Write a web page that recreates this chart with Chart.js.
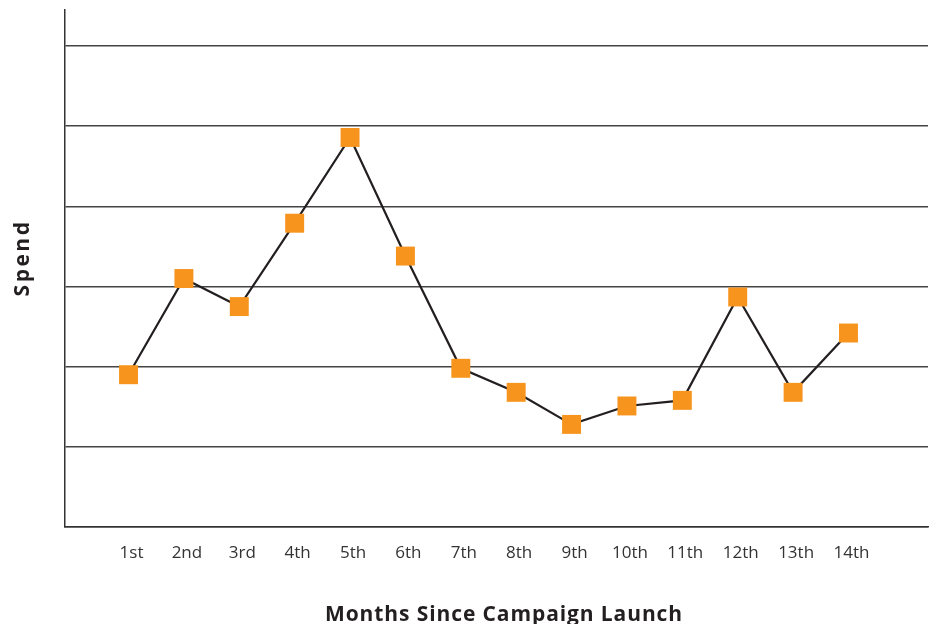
<!DOCTYPE html>
<html lang="en">
<head>
  <meta charset="UTF-8" />
  <title>Spend by Month</title>
  <script src="https://cdn.jsdelivr.net/npm/chart.js"></script>
  <style>
    html, body { margin: 0; padding: 0; background: #fff; }
    .chart-box { width: 937px; height: 624px; position: relative; }
  </style>
</head>
<body>
  <div class="chart-box">
    <canvas id="spendChart"></canvas>
  </div>

  <script>
    const months = ["1st", "2nd", "3rd", "4th", "5th", "6th", "7th", "8th", "9th", "10th", "11th", "12th", "13th", "14th"];
    const spend = [1.9, 3.1, 2.75, 3.79, 4.86, 3.38, 1.98, 1.68, 1.28, 1.51, 1.58, 2.87, 1.68, 2.42];
    const yTicks = [0, 1, 2, 3, 4, 5, 6];
    const yTitle = "Spend";
    const xTitle = "Months Since Campaign Launch";

    const points = months.map((m, i) => ({ x: i + 1, y: spend[i] }));

    // axis titles drawn by hand so they sit where the original has them
    const axisTitles = {
      id: "axisTitles",
      afterDraw(chart) {
        const ctx = chart.ctx;
        ctx.save();
        ctx.fillStyle = "#231f20";
        ctx.font = "bold 21px 'Open Sans'";
        ctx.textAlign = "center";
        ctx.textBaseline = "alphabetic";
        ctx.letterSpacing = "0.9px";
        ctx.fillText(xTitle, 504, 621);
        ctx.letterSpacing = "2.5px";
        ctx.translate(29, 258);
        ctx.rotate(-Math.PI / 2);
        ctx.fillText(yTitle, 0, 0);
        ctx.restore();
      }
    };

    const ctx = document.getElementById("spendChart").getContext("2d");
    new Chart(ctx, {
      type: "line",
      data: {
        datasets: [{
          label: yTitle,
          data: points,
          borderColor: "#231f20",
          borderWidth: 2.2,
          tension: 0,
          pointStyle: "rect",
          pointRadius: 13.4,
          pointHoverRadius: 13.4,
          pointBorderWidth: 0,
          pointBackgroundColor: "#f7941e"
        }]
      },
      options: {
        responsive: true,
        maintainAspectRatio: false,
        animation: false,
        layout: { autoPadding: false, padding: { top: 10, right: 9, left: 0, bottom: 0 } },
        plugins: {
          legend: { display: false },
          tooltip: { enabled: false }
        },
        scales: {
          x: {
            type: "linear",
            min: -0.147,
            max: 15.436,
            afterFit: s => { s.height = 97; },
            grid: { display: false },
            border: { display: true, color: "#333", width: 1.5 },
            ticks: {
              stepSize: 1,
              includeBounds: false,
              autoSkip: false,
              maxRotation: 0,
              padding: 8,
              labelOffset: 3,
              color: "#333",
              font: { family: "'Open Sans'", size: 17 },
              callback: v => months[v - 1] || ""
            }
          },
          y: {
            min: 0,
            max: 6.45,
            afterFit: s => { s.width = 65; },
            afterBuildTicks: s => { s.ticks = yTicks.map(v => ({ value: v })); },
            grid: { color: "#444", lineWidth: 1.5, drawTicks: false },
            border: { display: true, color: "#333", width: 1.5 },
            ticks: { display: false }
          }
        }
      },
      plugins: [axisTitles]
    });
  </script>
</body>
</html>
